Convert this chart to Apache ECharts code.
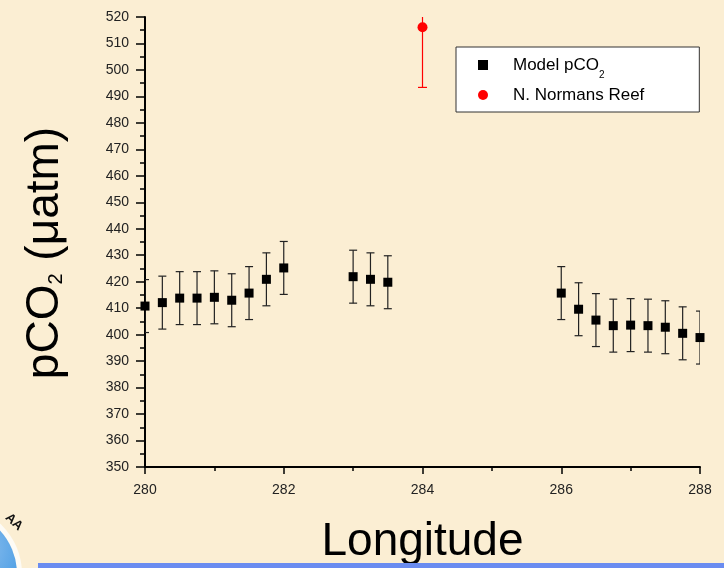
<!DOCTYPE html>
<html>
<head>
<meta charset="utf-8">
<script src="https://cdn.jsdelivr.net/npm/echarts@6/dist/echarts.min.js"></script>
<style>
html,body{margin:0;padding:0;background:#fbeed3;}
#chart{width:724px;height:568px;}
</style>
</head>
<body>
<div id="chart"></div>
<script>
// ---- data ----
var modelLon = [280, 280.25, 280.5, 280.75, 281, 281.25, 281.5, 281.75, 282, 283, 283.25, 283.5, 286, 286.25, 286.5, 286.75, 287, 287.25, 287.5, 287.75, 288];
var modelPco2 = [410.8, 412.1, 413.8, 413.8, 414.1, 413.0, 415.7, 420.9, 425.2, 421.9, 420.9, 419.8, 415.7, 409.6, 405.5, 403.4, 403.6, 403.4, 402.8, 400.5, 398.9];
var modelErr = [10, 10, 10, 10, 10, 10, 10, 10, 10, 10, 10, 10, 10, 10, 10, 10, 10, 10, 10, 10, 10];
var obsLon = [284];
var obsPco2 = [516.1];
var obsErr = [22.7];
var seriesNames = ['Model pCO2', 'N. Normans Reef'];
var xTitle = 'Longitude';
var yTitle = 'pCO{sub|2} (μatm)';

var FONT = '"Liberation Sans", Arial, sans-serif';

function zip3(a, b, c) { return a.map(function (v, i) { return [v, b[i], c[i]]; }); }
function zip2(a, b) { return a.map(function (v, i) { return [v, b[i]]; }); }

function errRender(color, capHalf) {
  return function (params, api) {
    var x = api.value(0), y = api.value(1), e = api.value(2);
    var top = api.coord([x, y + e]);
    var bot = api.coord([x, y - e]);
    var st = { stroke: color, lineWidth: 1.2 };
    return {
      type: 'group',
      children: [
        { type: 'line', shape: { x1: top[0], y1: top[1], x2: bot[0], y2: bot[1] }, style: st },
        { type: 'line', shape: { x1: top[0] - capHalf, y1: top[1], x2: top[0] + capHalf, y2: top[1] }, style: st },
        { type: 'line', shape: { x1: bot[0] - capHalf, y1: bot[1], x2: bot[0] + capHalf, y2: bot[1] }, style: st }
      ]
    };
  };
}

var chart = echarts.init(document.getElementById('chart'), null, { renderer: 'canvas' });
chart.setOption({
  backgroundColor: '#fbeed3',
  animation: false,
  grid: { left: 145, right: 24, top: 17, bottom: 101, outerBoundsMode: 'none', containLabel: false },
  xAxis: {
    type: 'value', min: 280, max: 288, interval: 2,
    name: xTitle, nameLocation: 'middle', nameGap: 52,
    nameTextStyle: { fontSize: 46, fontFamily: FONT, color: '#000' },
    axisLine: { show: true, lineStyle: { color: '#000', width: 2 } },
    axisTick: { show: true, length: 7, inside: false, lineStyle: { color: '#000', width: 1.5 } },
    minorTick: { show: true, splitNumber: 2, length: 4, lineStyle: { color: '#000', width: 1.5 } },
    axisLabel: { fontSize: 14, fontFamily: FONT, color: '#222', margin: 16 },
    splitLine: { show: false }
  },
  yAxis: {
    type: 'value', min: 350, max: 520, interval: 10,
    name: yTitle, nameLocation: 'middle', nameGap: 79, nameRotate: 90,
    nameTextStyle: {
      fontSize: 46, fontFamily: FONT, color: '#000', lineHeight: 41, padding: [0, 22, 0, 0],
      rich: { sub: { fontSize: 20, fontFamily: FONT, color: '#000', lineHeight: 20, padding: [21, 0, 0, 0] } }
    },
    axisLine: { show: true, lineStyle: { color: '#000', width: 2 } },
    axisTick: { show: true, length: 9, inside: false, lineStyle: { color: '#000', width: 1.5 } },
    minorTick: { show: true, splitNumber: 2, length: 5, lineStyle: { color: '#000', width: 1.5 } },
    axisLabel: { fontSize: 14, fontFamily: FONT, color: '#222', margin: 16 },
    splitLine: { show: false }
  },
  legend: {
    data: [
      { name: seriesNames[0], icon: 'rect' },
      { name: seriesNames[1], icon: 'circle' }
    ],
    orient: 'vertical',
    left: 456, top: 47,
    itemWidth: 10, itemHeight: 10, itemGap: 0,
    backgroundColor: '#ffffff', borderColor: '#333', borderWidth: 1, borderRadius: 0,
    padding: [3, 55, 2, 22],
    formatter: function (n) { return n === 'Model pCO2' ? 'Model pCO{sub|2}' : n; },
    textStyle: {
      fontSize: 17, fontFamily: FONT, color: '#000', lineHeight: 30, padding: [0, 0, 0, 20],
      rich: { sub: { fontSize: 10, fontFamily: FONT, color: '#000', lineHeight: 10, padding: [20, 0, 0, 0] } }
    }
  },
  graphic: [
    { type: 'rect', left: 38, top: 563, shape: { width: 686, height: 5 }, style: { fill: '#6a8cf0' }, z: 10 },
    { type: 'circle', shape: { cx: -47, cy: 574, r: 69 }, style: { fill: '#fdfbf5' }, z: 10 },
    { type: 'circle', shape: { cx: -47, cy: 574, r: 64 },
      style: { fill: new echarts.graphic.RadialGradient(0.7, 0.3, 0.9, [{ offset: 0, color: '#8fc0ee' }, { offset: 0.6, color: '#2f8fe0' }, { offset: 1, color: '#1570c8' }]) }, z: 11 },
    { type: 'text', x: 14, y: 522, rotation: -0.75, style: { text: 'AA', font: 'bold 13px ' + FONT, fill: '#111', align: 'center', verticalAlign: 'middle' }, z: 12 }
  ],
  series: [
    {
      name: 'modelErr', type: 'custom', clip: true, silent: true, z: 2,
      renderItem: errRender('#222', 4),
      data: zip3(modelLon, modelPco2, modelErr)
    },
    {
      name: 'obsErr', type: 'custom', clip: true, silent: true, z: 2,
      renderItem: errRender('#ff0000', 4.5),
      data: zip3(obsLon, obsPco2, obsErr)
    },
    {
      name: seriesNames[0], type: 'scatter', symbol: 'rect', symbolSize: 9, clip: true, z: 3,
      itemStyle: { color: '#000', opacity: 1 },
      data: zip2(modelLon, modelPco2)
    },
    {
      name: seriesNames[1], type: 'scatter', symbol: 'circle', symbolSize: 10, clip: true, z: 3,
      itemStyle: { color: '#ff0000', opacity: 1 },
      data: zip2(obsLon, obsPco2)
    }
  ]
});
</script>
</body>
</html>
